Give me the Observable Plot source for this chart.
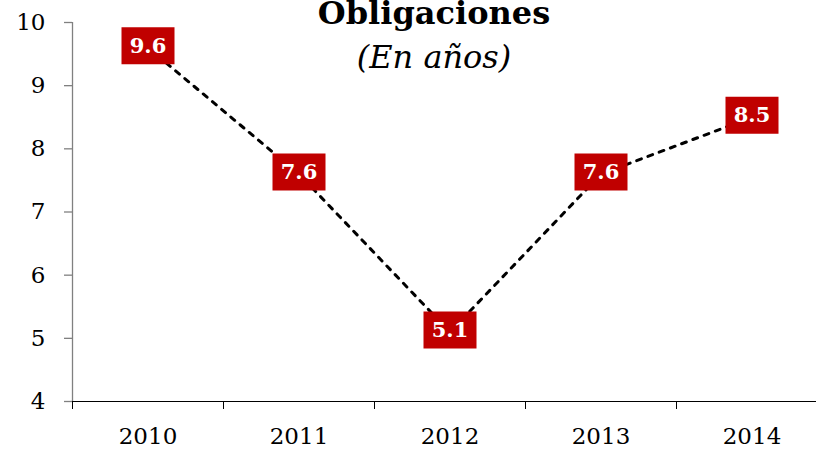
<!DOCTYPE html>
<html>
<head>
<meta charset="utf-8">
<script src="https://cdn.jsdelivr.net/npm/d3@7"></script>
<script src="https://cdn.jsdelivr.net/npm/@observablehq/plot@0.6"></script>
<style>
  html, body { margin: 0; padding: 0; background: white; overflow: hidden; }
  #wrap { position: relative; width: 816px; height: 449px; }
  .ttl { position: absolute; left: 434px; transform: translateX(-50%); white-space: nowrap; line-height: 1; color: #000; font-family: "DejaVu Serif", serif; }
  #title { top: -3px; font-size: 32px; font-weight: bold; }
  #subtitle { top: 41px; font-size: 32px; font-style: italic; }
  svg { overflow: hidden; }
</style>
</head>
<body>
<div id="wrap">
  <div id="chart"></div>
  <div id="title" class="ttl">Obligaciones</div>
  <div id="subtitle" class="ttl">(En años)</div>
</div>
<script>
const years = [2010, 2011, 2012, 2013, 2014];
const values = [9.6, 7.6, 5.1, 7.6, 8.5];
const yTicks = [4, 5, 6, 7, 8, 9, 10];
const yDomain = [4, 10];

const data = years.map((year, i) => ({year, value: values[i]}));
const xDomain = [years[0] - 0.5, years[years.length - 1] + 0.5];
const boundaries = d3.range(xDomain[0], xDomain[1] + 1, 1);

const boxSymbol = {
  draw(context) {
    context.rect(-26.5, -20.5, 53, 37);
  }
};

const chart = Plot.plot({
  width: 816,
  height: 449,
  marginTop: 22,
  marginBottom: 48,
  marginLeft: 72,
  marginRight: -11,
  style: {fontFamily: "DejaVu Serif, serif", background: "white"},
  x: {domain: xDomain},
  y: {domain: yDomain},
  marks: [
    Plot.ruleX([xDomain[0]], {y1: yDomain[0], y2: yDomain[1], stroke: "#808080", strokeWidth: 1.3}),
    Plot.axisY({ticks: yTicks, tickSize: 8, tickPadding: 19, stroke: "#808080", strokeOpacity: 1, strokeWidth: 1.3, fill: "#000", fontSize: 23, label: null, tickFormat: d => String(d)}),
    Plot.ruleY([yDomain[0]], {stroke: "#000", strokeWidth: 1}),
    Plot.axisX({ticks: boundaries, tickSize: 8, stroke: "#000", strokeOpacity: 1, tickFormat: () => "", label: null}),
    Plot.axisX({ticks: years, tickSize: 0, tickPadding: 26, fill: "#000", fontSize: 23, label: null, tickFormat: d => String(d)}),
    Plot.line(data, {x: "year", y: "value", stroke: "#000", strokeWidth: 3, strokeDasharray: "5,7", strokeLinecap: "round"}),
    Plot.dot(data, {x: "year", y: "value", symbol: boxSymbol, fill: "#C00000", stroke: "none", r: 10}),
    Plot.text(data, {x: "year", y: "value", text: d => d.value.toFixed(1), fill: "white", fontWeight: "bold", fontSize: 21, dy: -2})
  ]
});
document.getElementById("chart").appendChild(chart);
</script>
</body>
</html>
